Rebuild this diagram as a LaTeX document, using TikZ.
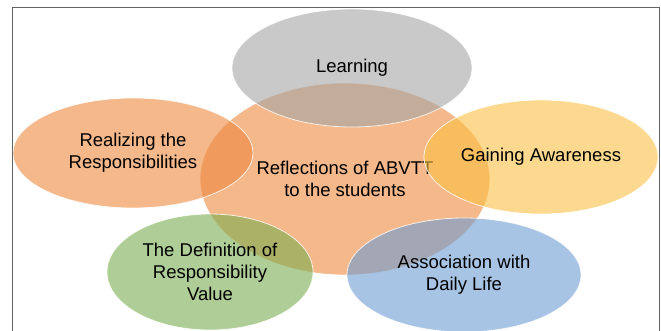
\documentclass[tikz,border=0pt]{standalone}
\usepackage{fontspec}
\setmainfont{Liberation Sans}
\usetikzlibrary{shapes.geometric}
\definecolor{cgray}{RGB}{165,165,165}
\definecolor{corange}{RGB}{238,137,63}
\definecolor{cyellow}{RGB}{250,193,67}
\definecolor{cgreen}{RGB}{123,173,80}
\definecolor{cblue}{RGB}{110,157,210}
\definecolor{cframe}{RGB}{100,100,100}
\tikzset{
  blob/.style={ellipse, inner sep=0pt, fill=#1, fill opacity=0.6, text opacity=1,
    draw=white, draw opacity=0.8, line width=0.8pt, align=center,
    font=\fontsize{18.5pt}{22pt}\selectfont, text=black},
  frameline/.style={draw=cframe, line width=0.9pt}
}
\begin{document}
\begin{tikzpicture}[x=1pt,y=-1pt]
\useasboundingbox (0,0) rectangle (661,331);
\clip (0,0) rectangle (661,331);
\fill[white] (0,0) rectangle (661,331);
\node[blob=corange, minimum width=290pt, minimum height=192pt] (center) at (345,179) {\raisebox{-2pt}{}Reflections of ABVTT\\to the students};
\node[blob=cgray, minimum width=240pt, minimum height=118pt] (learn) at (352,68) {Learning};
\node[blob=cyellow, minimum width=234pt, minimum height=114pt] (gain) at (541,157) {Gaining Awareness};
\node[blob=cblue, minimum width=234pt, minimum height=114pt] (assoc) at (464,275) {Association with\\Daily Life};
\node[blob=cgreen, minimum width=206pt, minimum height=116pt] (defn) at (210,272) {The Definition of\\Responsibility\\Value};
\node[blob=corange, minimum width=240pt, minimum height=110pt] (real) at (133,153) {Realizing the\\Responsibilities};
\coordinate (fbl) at (12.5,331);
\coordinate (ftl) at (12.5,7.5);
\coordinate (ftr) at (659,7.5);
\coordinate (fbr) at (659,331);
\draw[frameline] (fbl) -- (ftl) -- (ftr) -- (fbr);
\end{tikzpicture}
\end{document}
